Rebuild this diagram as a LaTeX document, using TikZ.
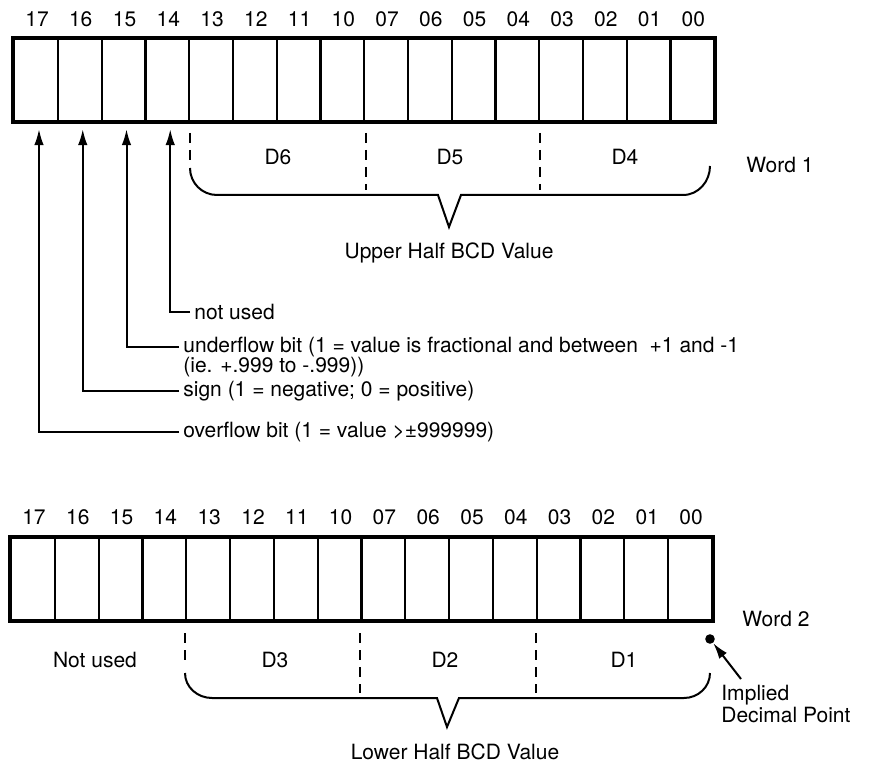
\documentclass[tikz,border=0pt]{standalone}
\usepackage{fontspec}
\setmainfont{TeX Gyre Heros}
\usetikzlibrary{arrows.meta}
\begin{document}
\begin{tikzpicture}[x=0.5pt,y=-0.5pt,
  font=\fontsize{10.5}{12.6}\selectfont,
  cell/.style={draw,line width=1.1pt,minimum width=21.9pt,minimum height=41pt,inner sep=0pt,anchor=north west},
  frame/.style={line width=1.6pt},
  num/.style={inner sep=0pt},
  arr/.style={line width=1pt,-{Latex[length=8pt,width=4.8pt]}},
  divider/.style={line width=1pt,dash pattern=on 5pt off 3.5pt},
  brace/.style={line width=1pt},
  txt/.style={anchor=west,inner sep=2pt}]
\useasboundingbox (0,0) rectangle (869,765);

% ---------- Word 1 ----------
\foreach \b [count=\k from 0] in {17,16,15,14,13,12,11,10,07,06,05,04,03,02,01,00}{
  \node[cell] (a\b) at ({13+\k*43.75},38) {};
  \node[num] (na\b) at ({13+\k*43.75+24},19) {\b};
}
\draw[frame] (a17.north west) rectangle (a00.south east);

% digit fields of the upper half
\draw[divider] (190,133) -- (190,160);
\draw[divider] (366,133) -- (366,190);
\draw[divider] (540,133) -- (540,190);
\node (d6) at (278,157) {D6};
\node (d5) at (450,157) {D5};
\node (d4) at (625,157) {D4};
\node (w1) at (780,165) {Word 1};
\draw[brace] (190,168) to[out=-90,in=180] (217,195) -- (438,195) -- (449,227)
  -- (461,195) -- (683,195) to[out=0,in=-90] (710,166);
\node (uh) at (449,253) {Upper Half BCD Value};

% flag bits
\node[txt] (nu) at (190,312) {not used};
\node[txt] (uf) at (179,347) {underflow bit (1 = value is fractional and between\ \ +1 and -1};
\node[txt] (uf2) at (179,367) {(ie. +.999 to -.999))};
\node[txt] (sg) at (179,391) {sign (1 = negative; 0 = positive)};
\node[txt] (ov) at (179,432) {overflow bit (1 = value >±999999)};
\draw[arr] (nu.west) -| ([xshift=1.5pt,yshift=-3.5pt]a14.south);
\draw[arr] (uf.west) -| ([xshift=1.5pt,yshift=-3.5pt]a15.south);
\draw[arr] (sg.west) -| ([xshift=1.5pt,yshift=-3.5pt]a16.south);
\draw[arr] (ov.west) -| ([xshift=1.5pt,yshift=-3.5pt]a17.south);

% ---------- Word 2 ----------
\foreach \b [count=\k from 0] in {17,16,15,14,13,12,11,10,07,06,05,04,03,02,01,00}{
  \node[cell] (b\b) at ({10+\k*43.8},537) {};
  \node[num] (nb\b) at ({10+\k*43.8+24},517) {\b};
}
\draw[frame] (b17.north west) rectangle (b00.south east);

% digit fields of the lower half
\draw[divider] (185,633) -- (185,660);
\draw[divider] (360,633) -- (360,693);
\draw[divider] (536,633) -- (536,693);
\node (nused) at (95,660) {Not used};
\node (d3) at (275,660) {D3};
\node (d2) at (445,660) {D2};
\node (d1) at (624,660) {D1};
\node (w2) at (776,619) {Word 2};
\draw[brace] (185,673) to[out=-90,in=180] (212,698) -- (437,698) -- (447,727)
  -- (459,698) -- (684,698) to[out=0,in=-90] (710,673);
\node (lh) at (455,752) {Lower Half BCD Value};

% implied decimal point
\node[circle,fill,inner sep=0pt,minimum size=4.8pt] (dp) at (710,639) {};
\node[anchor=north west,inner sep=2pt,align=left,font=\fontsize{10.5}{11}\selectfont] (idp) at (717,681) {Implied\\Decimal Point};
\draw[arr] ([xshift=12pt,yshift=1pt]idp.north west) -- (dp);
\end{tikzpicture}
\end{document}
